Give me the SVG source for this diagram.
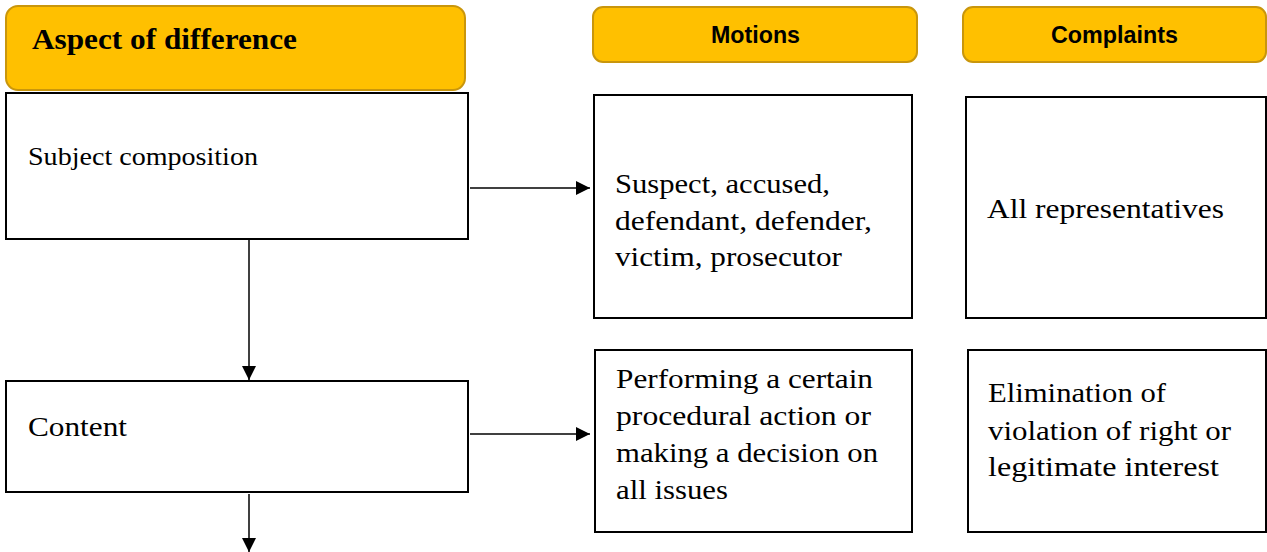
<svg xmlns="http://www.w3.org/2000/svg" width="1267" height="552" viewBox="0 0 1267 552">
<defs>
<style>
.hdr{fill:#FFC000;stroke:#C9960C;stroke-width:2}
.box{fill:#FFFFFF;stroke:#000000;stroke-width:2}
.t{font-family:"Liberation Serif","DejaVu Serif",serif;font-size:27px;fill:#000}
.ts{font-family:"Liberation Serif","DejaVu Serif",serif;font-size:25px;fill:#000}
.hs{font-family:"Liberation Sans",Arial,sans-serif;font-size:24px;font-weight:bold;fill:#000}
.hb{font-family:"Liberation Serif","DejaVu Serif",serif;font-size:30px;font-weight:bold;fill:#000}
.c{stroke:#000;stroke-width:1.5;fill:none}
</style>
<marker id="ah" viewBox="0 0 10 10" refX="10" refY="5" markerWidth="14" markerHeight="14" markerUnits="userSpaceOnUse" orient="auto">
<path d="M0,0 L10,5 L0,10 Z" fill="#000"/>
</marker>
</defs>
<g id="hdr-aspect">
<rect class="hdr" x="6" y="6" width="459" height="84" rx="12"/>
<text class="hb" x="32" y="49" textLength="265" lengthAdjust="spacingAndGlyphs">Aspect of difference</text>
</g>
<g id="hdr-motions">
<rect class="hdr" x="593" y="7" width="324" height="55" rx="10"/>
<text class="hs" x="711" y="43" textLength="89" lengthAdjust="spacingAndGlyphs">Motions</text>
</g>
<g id="hdr-complaints">
<rect class="hdr" x="963" y="7" width="303" height="55" rx="10"/>
<text class="hs" x="1051" y="43" textLength="127" lengthAdjust="spacingAndGlyphs">Complaints</text>
</g>
<g id="subject">
<rect class="box" x="6" y="93" width="462" height="146"/>
<text class="ts" x="28" y="165" textLength="230" lengthAdjust="spacingAndGlyphs">Subject composition</text>
</g>
<g id="motions-subject">
<rect class="box" x="594" y="95" width="318" height="223"/>
<text class="t" x="615" y="193" textLength="215" lengthAdjust="spacingAndGlyphs">Suspect, accused,</text>
<text class="t" x="615" y="230" textLength="257" lengthAdjust="spacingAndGlyphs">defendant, defender,</text>
<text class="t" x="615" y="266" textLength="227" lengthAdjust="spacingAndGlyphs">victim, prosecutor</text>
</g>
<g id="complaints-subject">
<rect class="box" x="966" y="97" width="300" height="221"/>
<text class="t" x="987" y="218" textLength="237" lengthAdjust="spacingAndGlyphs">All representatives</text>
</g>
<g id="content">
<rect class="box" x="6" y="381" width="462" height="111"/>
<text class="t" x="28" y="436" textLength="99" lengthAdjust="spacingAndGlyphs">Content</text>
</g>
<g id="motions-content">
<rect class="box" x="595" y="350" width="317" height="182"/>
<text class="t" x="616" y="388" textLength="257" lengthAdjust="spacingAndGlyphs">Performing a certain</text>
<text class="t" x="616" y="425" textLength="255" lengthAdjust="spacingAndGlyphs">procedural action or</text>
<text class="t" x="616" y="462" textLength="262" lengthAdjust="spacingAndGlyphs">making a decision on</text>
<text class="t" x="616" y="499" textLength="112" lengthAdjust="spacingAndGlyphs">all issues</text>
</g>
<g id="complaints-content">
<rect class="box" x="968" y="350" width="298" height="182"/>
<text class="t" x="988" y="402" textLength="178" lengthAdjust="spacingAndGlyphs">Elimination of</text>
<text class="t" x="988" y="440" textLength="243" lengthAdjust="spacingAndGlyphs">violation of right or</text>
<text class="t" x="988" y="476" textLength="231" lengthAdjust="spacingAndGlyphs">legitimate interest</text>
</g>
<g id="connectors">
<line class="c" x1="470" y1="188" x2="590" y2="188" marker-end="url(#ah)"/>
<line class="c" x1="249" y1="240" x2="249" y2="380" marker-end="url(#ah)"/>
<line class="c" x1="470" y1="434" x2="590" y2="434" marker-end="url(#ah)"/>
<line class="c" x1="249" y1="494" x2="249" y2="552" marker-end="url(#ah)"/>
</g>
</svg>
